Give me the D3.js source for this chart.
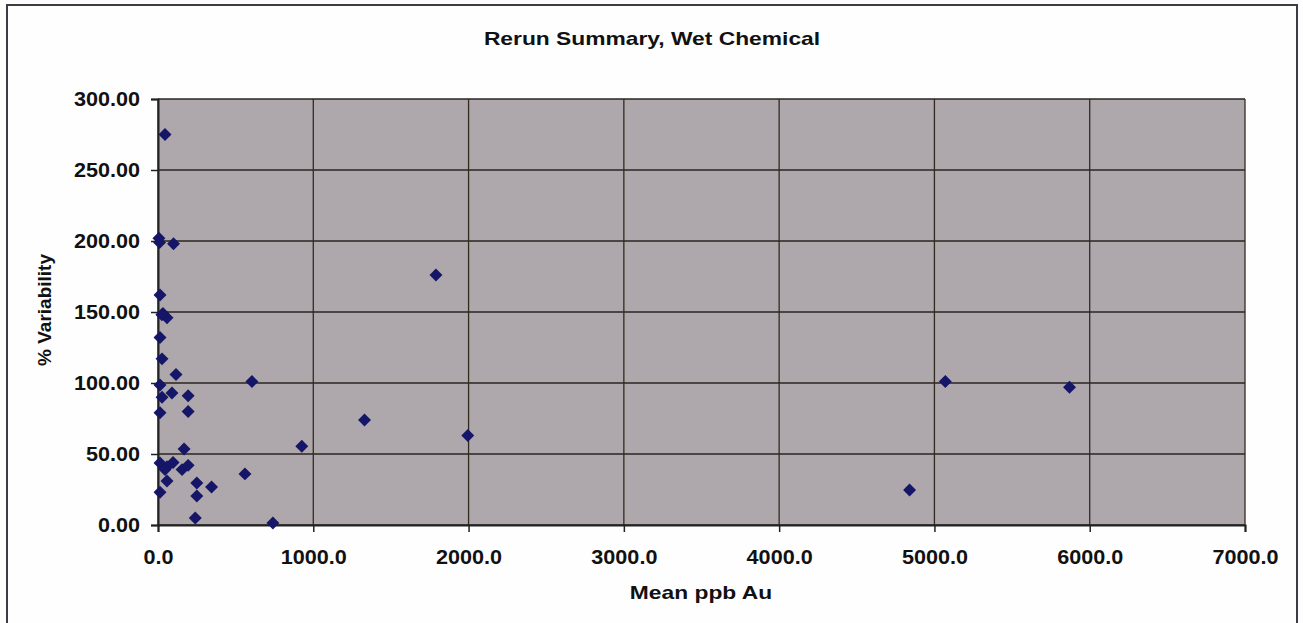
<!DOCTYPE html>
<html>
<head>
<meta charset="utf-8">
<script src="https://cdn.jsdelivr.net/npm/d3@7"></script>
<style>
  body { margin: 0; background: #fdfdfd; }
  svg { display: block; font-family: "Liberation Sans", Arial, sans-serif; }
  .tick text { font-weight: bold; font-size: 20px; fill: #111; }
</style>
</head>
<body>
<svg width="1303" height="623"></svg>
<script>
// mean ppb Au
var meanPpb = [45, 6, 10, 100, 13, 32, 58, 25, 13, 26, 116, 605, 13, 90, 26, 194, 13, 194,
  1790, 1330, 1995, 168, 926, 13, 58, 97, 45, 155, 194, 560, 58, 250, 345, 13, 250,
  240, 740, 4840, 5070, 5870];
// % variability
var variability = [275, 202, 199, 198, 162, 149, 146, 148, 132, 117, 106, 101, 98.6, 93, 90, 91, 79, 80,
  176, 74, 63, 53.5, 55.5, 43.7, 41, 44, 39, 39, 42, 36, 31, 29.6, 26.8, 23, 20.4,
  5, 1.4, 24.6, 101, 97];
var xTicks = [0, 1000, 2000, 3000, 4000, 5000, 6000, 7000];
var yTicks = [0, 50, 100, 150, 200, 250, 300];

var svg = d3.select("svg");
var margin = { top: 99, right: 58, bottom: 98, left: 158 };
var width = 1303 - margin.left - margin.right;
var height = 623 - margin.top - margin.bottom;

// the scanned chart is a bit wider than tall, stretch the text to match
function stretch(sel, k) {
  sel.each(function() {
    var w = this.getComputedTextLength();
    d3.select(this)
      .attr("textLength", w * k)
      .attr("lengthAdjust", "spacingAndGlyphs");
  });
}

// outer frame
svg.append("rect")
  .attr("x", 7).attr("y", 5)
  .attr("width", 1290).attr("height", 640)
  .attr("fill", "#fefefe")
  .attr("stroke", "#3c3c48")
  .attr("stroke-width", 2);

var g = svg.append("g")
  .attr("transform", `translate(${margin.left}, ${margin.top})`);

var x = d3.scaleLinear().domain([0, 7000]).range([0, width]);
var y = d3.scaleLinear().domain([0, 300]).range([height, 0]);

g.append("rect")
  .attr("width", width)
  .attr("height", height)
  .attr("fill", "#aea8ad");

// grid
g.append("g")
  .selectAll("line")
  .data(yTicks)
  .enter().append("line")
  .attr("x1", 0).attr("x2", width)
  .attr("y1", function(d) { return y(d); })
  .attr("y2", function(d) { return y(d); })
  .attr("stroke", "#2a2422")
  .attr("stroke-width", 1.3);

g.append("g")
  .selectAll("line")
  .data(xTicks)
  .enter().append("line")
  .attr("y1", 0).attr("y2", height)
  .attr("x1", function(d) { return x(d); })
  .attr("x2", function(d) { return x(d); })
  .attr("stroke", "#332a1e")
  .attr("stroke-width", 1.3);

var xAxis = g.append("g")
  .attr("transform", `translate(0, ${height})`)
  .call(d3.axisBottom(x)
    .tickValues(xTicks)
    .tickSize(7)
    .tickPadding(18)
    .tickFormat(d3.format(".1f")));

var yAxis = g.append("g")
  .call(d3.axisLeft(y)
    .tickValues(yTicks)
    .tickSize(7)
    .tickPadding(11)
    .tickFormat(d3.format(".2f")));

[xAxis, yAxis].forEach(function(a) {
  a.select(".domain").attr("stroke", "#222").attr("stroke-width", 2);
  a.selectAll(".tick line").attr("stroke", "#222").attr("stroke-width", 1.5);
  stretch(a.selectAll(".tick text"), 1.08);
});

// points, square diamonds like the Excel marker
var diamond = { draw: function(ctx, size) {
  var r = Math.sqrt(size / 2);
  ctx.moveTo(0, -r); ctx.lineTo(r, 0); ctx.lineTo(0, r); ctx.lineTo(-r, 0); ctx.closePath();
} };
var sym = d3.symbol().type(diamond).size(84);
g.append("g")
  .selectAll("path")
  .data(meanPpb.map(function(d, i) { return [d, variability[i]]; }))
  .enter().append("path")
  .attr("d", sym)
  .attr("transform", function(d) { return `translate(${x(d[0])}, ${y(d[1])})`; })
  .attr("fill", "#151668");

// titles
var title = svg.append("text")
  .attr("x", 652).attr("y", 45)
  .attr("text-anchor", "middle")
  .attr("font-weight", "bold")
  .attr("font-size", 19)
  .attr("fill", "#111")
  .text("Rerun Summary, Wet Chemical");

var xTitle = svg.append("text")
  .attr("x", 701).attr("y", 599)
  .attr("text-anchor", "middle")
  .attr("font-weight", "bold")
  .attr("font-size", 19)
  .attr("fill", "#111")
  .text("Mean ppb Au");

stretch(title, 1.2);
stretch(xTitle, 1.2);

svg.append("text")
  .attr("transform", "translate(51, 310) rotate(-90)")
  .attr("text-anchor", "middle")
  .attr("font-weight", "bold")
  .attr("font-size", 19)
  .attr("fill", "#111")
  .text("% Variability");
</script>
</body>
</html>
